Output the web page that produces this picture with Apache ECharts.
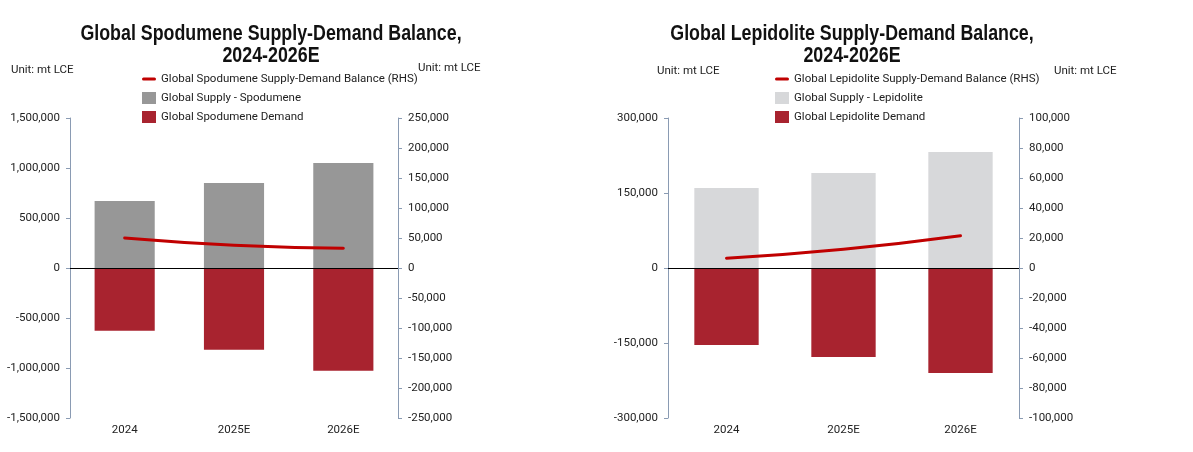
<!DOCTYPE html>
<html>
<head>
<meta charset="utf-8">
<script src="https://cdn.jsdelivr.net/npm/echarts@6/dist/echarts.min.js"></script>
<style>html,body{margin:0;padding:0;background:#fff;}#c{width:1193px;height:452px;}</style>
</head>
<body>
<div id="c"></div>
<script>
const categories = ['2024', '2025E', '2026E'];
const spodSupply = [670000, 850000, 1050000];
const spodDemand = [-627000, -817000, -1027000];
const spodBalance = [50000, 38000, 33000];
const lepiSupply = [160000, 190000, 232000];
const lepiDemand = [-154000, -178000, -210000];
const lepiBalance = [6500, 12500, 21500];
const spodLeftTicks = {min: -1500000, max: 1500000, interval: 500000};
const spodRightTicks = {min: -250000, max: 250000, interval: 50000};
const lepiLeftTicks = {min: -300000, max: 300000, interval: 150000};
const lepiRightTicks = {min: -100000, max: 100000, interval: 20000};

const FONT = 'Roboto';
const FS = 11.5;
const axisColor = '#8a9bb3';
const txt = '#222';
const fmt = v => v.toLocaleString('en-US');

function yAxis(gridIndex, t, pos) {
  return {
    type: 'value', gridIndex, position: pos, min: t.min, max: t.max, interval: t.interval,
    axisLine: {show: true, lineStyle: {color: axisColor, width: 1}},
    axisTick: {show: true, length: 4, lineStyle: {color: axisColor}},
    splitLine: {show: false},
    axisLabel: {formatter: fmt, color: txt, fontSize: FS, fontFamily: FONT, margin: 10}
  };
}
function xAxis(gridIndex) {
  return {
    type: 'category', gridIndex, data: categories, position: 'bottom',
    axisLine: {show: false}, axisTick: {show: false},
    axisLabel: {color: txt, fontSize: FS, fontFamily: FONT, margin: 6}
  };
}
function series(idx, supplyName, supply, supplyColor, demandName, demand, balName, bal) {
  return [
    {name: supplyName, type: 'bar', xAxisIndex: idx, yAxisIndex: idx*2, stack: 's'+idx, data: supply,
     barWidth: '55%', itemStyle: {color: supplyColor},
     markLine: {silent: true, symbol: 'none', label: {show: false},
       lineStyle: {color: '#000', width: 1, type: 'solid'}, data: [{yAxis: 0}]}},
    {name: demandName, type: 'bar', xAxisIndex: idx, yAxisIndex: idx*2, stack: 's'+idx, data: demand,
     barWidth: '55%', itemStyle: {color: '#a8232f'}},
    {name: balName, type: 'line', xAxisIndex: idx, yAxisIndex: idx*2+1, data: bal, smooth: true,
     symbol: 'none', lineStyle: {color: '#c00000', width: 3, cap: 'round'}, itemStyle: {color: '#c00000'}, z: 5}
  ];
}
const lineIcon = 'path://M1.5,0 L12.5,0 A1.5,1.5 0 0 1 12.5,3 L1.5,3 A1.5,1.5 0 0 1 1.5,0 Z';
const legendBase = {orient: 'vertical', padding: 0, itemGap: 7, itemWidth: 14, itemHeight: 12,
  symbolKeepAspect: true, textStyle: {fontSize: FS, fontFamily: FONT, color: txt}};

function titleText(x, text) {
  return {type: 'text', x: x, y: 23, scaleX: 0.81, z: 10,
    style: {text: text, font: 'bold 22px "Liberation Sans"', fill: '#111', align: 'center',
      verticalAlign: 'top', lineHeight: 22}};
}
function unitText(x, y) {
  return {type: 'text', x: x, y: y, style: {text: 'Unit: mt LCE', fontSize: FS, fontFamily: FONT, fill: txt,
    verticalAlign: 'middle'}};
}

const chart = echarts.init(document.getElementById('c'));
chart.setOption({
  animation: false,
  legend: [
    Object.assign({}, legendBase, {left: 142, top: 73, data: [
      {name: 'Global Spodumene Supply-Demand Balance (RHS)', icon: lineIcon},
      {name: 'Global Supply - Spodumene', icon: 'rect'},
      {name: 'Global Spodumene Demand', icon: 'rect'}]}),
    Object.assign({}, legendBase, {left: 775, top: 73, data: [
      {name: 'Global Lepidolite Supply-Demand Balance (RHS)', icon: lineIcon},
      {name: 'Global Supply - Lepidolite', icon: 'rect'},
      {name: 'Global Lepidolite Demand', icon: 'rect'}]})
  ],
  graphic: [
    titleText(271, 'Global Spodumene Supply-Demand Balance,\n2024-2026E'),
    titleText(852, 'Global Lepidolite Supply-Demand Balance,\n2024-2026E'),
    unitText(11, 70), unitText(418, 68), unitText(657, 71), unitText(1054, 71)
  ],
  grid: [
    {left: 70, right: 795, top: 118, bottom: 34},
    {left: 668, right: 174, top: 118, bottom: 34}
  ],
  xAxis: [xAxis(0), xAxis(1)],
  yAxis: [yAxis(0, spodLeftTicks, 'left'), yAxis(0, spodRightTicks, 'right'),
          yAxis(1, lepiLeftTicks, 'left'), yAxis(1, lepiRightTicks, 'right')],
  series: [].concat(
    series(0, 'Global Supply - Spodumene', spodSupply, '#979797', 'Global Spodumene Demand', spodDemand,
      'Global Spodumene Supply-Demand Balance (RHS)', spodBalance),
    series(1, 'Global Supply - Lepidolite', lepiSupply, '#d7d8da', 'Global Lepidolite Demand', lepiDemand,
      'Global Lepidolite Supply-Demand Balance (RHS)', lepiBalance)
  )
});
</script>
</body>
</html>
